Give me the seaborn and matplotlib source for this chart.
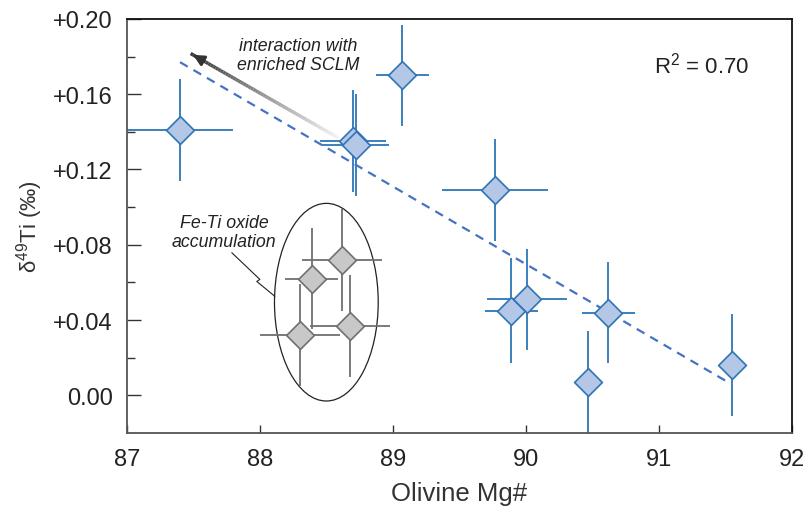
import numpy as np
import matplotlib
matplotlib.use("Agg")
import matplotlib.pyplot as plt
import seaborn as sns
import pandas as pd
from matplotlib.collections import LineCollection
from matplotlib.patches import Ellipse

# measured samples (olivine Mg#, d49Ti)
mg = [87.40, 88.70, 88.72, 89.07, 89.77, 89.89, 90.01, 90.47, 90.62, 91.55]
ti = [0.141, 0.135, 0.133, 0.170, 0.109, 0.045, 0.051, 0.007, 0.044, 0.016]
mg_err = [0.40, 0.25, 0.25, 0.20, 0.40, 0.20, 0.30, 0.10, 0.20, 0.08]
ti_err = [0.027, 0.027, 0.027, 0.027, 0.027, 0.028, 0.027, 0.027, 0.027, 0.027]

# Fe-Ti oxide accumulation samples
mg_ox = [88.62, 88.39, 88.30, 88.68]
ti_ox = [0.072, 0.062, 0.032, 0.037]
mg_ox_err = [0.30, 0.20, 0.30, 0.30]
ti_ox_err = [0.027, 0.027, 0.027, 0.027]

# regression line end points
fit_x = [87.40, 91.52]
fit_y = [0.177, 0.007]

sns.set_style("ticks")
plt.rcParams['font.family'] = ['Liberation Sans', 'DejaVu Sans']
plt.rcParams['mathtext.fontset'] = 'custom'
plt.rcParams['mathtext.rm'] = 'Liberation Sans'
plt.rcParams['mathtext.it'] = 'Liberation Sans:italic'

blue_edge = '#2E75B6'
blue_fill = '#B4C7E7'
grey_edge = '#707070'
grey_fill = '#C8C8C8'

fig = plt.figure(figsize=(8.08, 5.10), dpi=100)
ax = fig.add_axes([0.157, 0.149, 0.823, 0.812])

df = pd.DataFrame({'mg': mg, 'ti': ti})
df_ox = pd.DataFrame({'mg': mg_ox, 'ti': ti_ox})

ax.errorbar(mg, ti, xerr=mg_err, yerr=ti_err, fmt='none', ecolor=blue_edge,
            elinewidth=1.3, capsize=0, zorder=2)
ax.errorbar(mg_ox, ti_ox, xerr=mg_ox_err, yerr=ti_ox_err, fmt='none', ecolor=grey_edge,
            elinewidth=1.3, capsize=0, zorder=2)

ax.plot(fit_x, fit_y, ls=(0, (4, 3)), color='#4472C4', lw=1.6, zorder=2.5)

sns.scatterplot(data=df, x='mg', y='ti', marker='D', s=200, color=blue_fill,
                edgecolor=blue_edge, linewidth=1.2, zorder=3, ax=ax)
sns.scatterplot(data=df_ox, x='mg', y='ti', marker='D', s=200, color=grey_fill,
                edgecolor=grey_edge, linewidth=1.2, zorder=3, ax=ax)

ax.add_patch(Ellipse((88.50, 0.0495), 0.78, 0.105, fill=False, ec='#222222', lw=0.9))

# gradient arrow
tail = np.array([88.59, 0.1368])
tip = np.array([87.48, 0.1816])
t = np.linspace(0, 1, 60)
pts = tail + np.outer(t, tip - tail)
segs = np.stack([pts[:-1], pts[1:]], axis=1)
cols = plt.cm.gray_r(0.05 + 0.75 * t[:-1])
ax.add_collection(LineCollection(segs, colors=cols, linewidths=2.5, zorder=2))
ax.annotate('', xy=tip, xytext=tail + 0.9 * (tip - tail),
            arrowprops=dict(arrowstyle='-|>', color='#333333', lw=2, mutation_scale=16))

ax.text(88.29, 0.181, 'interaction with\nenriched SCLM', style='italic', fontsize=12.8,
        ha='center', va='center', color='#222222', linespacing=1.15)
ax.text(87.73, 0.0868, 'Fe-Ti oxide\naccumulation', style='italic', fontsize=12.8,
        ha='center', va='center', color='#222222', linespacing=1.15)
ax.plot([87.789, 88.00, 87.977, 88.113], [0.0758, 0.0616, 0.0605, 0.0526],
        color='#222222', lw=0.8)

ax.text(91.32, 0.1758, 'R$^2$ = 0.70', fontsize=16, ha='center', va='center', color='#222222')

ax.set_xlim(87, 92)
ax.set_ylim(-0.02, 0.199)
ax.set_xticks([87, 88, 89, 90, 91, 92])
yt = [0.00, 0.04, 0.08, 0.12, 0.16, 0.20]
ax.set_yticks(yt)
ax.set_yticklabels(['0.00' if v == 0 else '+%.2f' % v for v in yt])
ax.set_yticks([0.02, 0.06, 0.10, 0.14, 0.18], minor=True)
ax.tick_params(axis='both', which='major', direction='in', length=10, width=1,
               labelsize=17, colors='#333333', labelcolor='#222222')
ax.tick_params(axis='y', which='major', pad=10)
ax.tick_params(axis='x', which='major', length=6, pad=11)
ax.tick_params(axis='y', which='minor', direction='in', length=6, width=1, colors='#333333')

for s in ['left', 'bottom']:
    ax.spines[s].set_color('#555555')
    ax.spines[s].set_linewidth(1.3)
for s in ['top', 'right']:
    ax.spines[s].set_color('#111111')
    ax.spines[s].set_linewidth(1.3)

ax.set_xlabel('Olivine Mg#', fontsize=18.5, color='#333333', labelpad=8)
ax.set_ylabel('δ$^{49}$Ti (‰)', fontsize=16, color='#333333', labelpad=6)

fig.savefig('out.png', dpi=100)
